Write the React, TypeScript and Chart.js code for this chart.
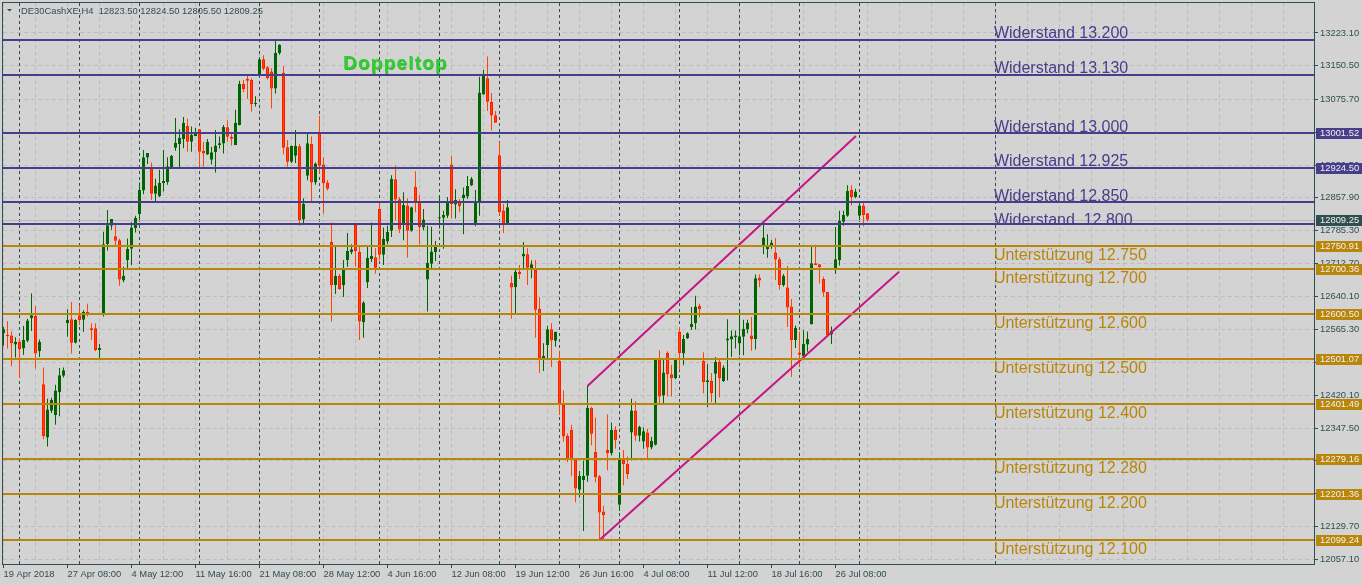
import React, { useEffect, useRef } from 'react';
import { Chart, registerables } from 'chart.js';

Chart.register(...registerables);

// ---------------- DATA ----------------
const symbol = 'DE30CashXE';
const period = 'H4';

const opens = [
  12558, 12554, 12553, 12533, 12539, 12524, 12541, 12591, 12596, 12518,
  12445, 12327, 12386, 12377, 12427, 12464, 12580, 12589, 12537, 12598,
  12588, 12605, 12569, 12569, 12521, 12600, 12755, 12796, 12773, 12764,
  12675, 12720, 12745, 12791, 12822, 12874, 12947, 12923, 12867, 12862,
  12891, 12893, 12926, 12969, 12977, 12988, 13017, 12982, 12995, 13010,
  12962, 12954, 12942, 12959, 12975, 12978, 13014, 12993, 12975, 13019,
  13110, 13121, 13119, 13066, 13130, 13165, 13147, 13138, 13100, 13178,
  13135, 12970, 12938, 12951, 12972, 12810, 12907, 12977, 12892, 13001,
  12932, 12892, 12760, 12665, 12685, 12664, 12720, 12738, 12798, 12738,
  12582, 12671, 12722, 12726, 12833, 12732, 12761, 12785, 12899, 12855,
  12800, 12841, 12785, 12882, 12849, 12792, 12677, 12712, 12738, 12812,
  12814, 12818, 12932, 12843, 12851, 12857, 12861, 12885, 12799, 12849,
  13087, 13123, 13070, 13041, 12952, 12830, 12801, 12669, 12660, 12694,
  12728, 12733, 12702, 12698, 12612, 12500, 12532, 12567, 12541, 12497,
  12399, 12330, 12344, 12278, 12211, 12233, 12242, 12393, 12295, 12241,
  12163, 12299, 12292, 12344, 12178, 12277, 12268, 12338, 12387, 12331,
  12318, 12338, 12305, 12311, 12499, 12420, 12514, 12467, 12458, 12561,
  12513, 12546, 12572, 12580, 12619, 12497, 12450, 12452, 12468, 12495,
  12452, 12542, 12544, 12549, 12535, 12550, 12567, 12553, 12545, 12681,
  12750, 12744, 12751, 12737, 12722, 12665, 12659, 12617, 12543, 12515,
  12507, 12533, 12578, 12713, 12711, 12678, 12649, 12555, 12702, 12720,
  12805, 12818, 12875, 12860, 12818, 12841, 12823.5,
];
const highs = [
  12572, 12585, 12562, 12549, 12546, 12574, 12590, 12646, 12618, 12544,
  12482, 12413, 12415, 12444, 12481, 12482, 12611, 12627, 12589, 12620,
  12609, 12623, 12580, 12580, 12534, 12783, 12831, 12811, 12797, 12768,
  12705, 12768, 12804, 12818, 12892, 12964, 12957, 12936, 12900, 12920,
  12964, 12948, 12953, 13035, 13010, 13037, 13033, 13016, 13013, 13010,
  12982, 12988, 12971, 13008, 12994, 13019, 13030, 13001, 13053, 13117,
  13119, 13130, 13123, 13083, 13167, 13174, 13150, 13145, 13210, 13198,
  13150, 12986, 12973, 13008, 12977, 12857, 13001, 12994, 12936, 13040,
  12948, 12897, 12803, 12750, 12689, 12720, 12780, 12755, 12802, 12750,
  12629, 12750, 12803, 12746, 12849, 12792, 12796, 12908, 12929, 12860,
  12870, 12857, 12838, 12917, 12864, 12833, 12796, 12794, 12762, 12864,
  12829, 12860, 12951, 12877, 12855, 12881, 12906, 12904, 12875, 13126,
  13141, 13171, 13090, 13050, 12982, 12844, 12853, 12685, 12698, 12709,
  12760, 12746, 12719, 12720, 12638, 12536, 12574, 12580, 12561, 12519,
  12431, 12336, 12355, 12278, 12253, 12276, 12441, 12395, 12371, 12244,
  12176, 12378, 12360, 12352, 12294, 12299, 12285, 12413, 12407, 12353,
  12349, 12346, 12328, 12502, 12520, 12499, 12518, 12488, 12499, 12572,
  12554, 12560, 12616, 12641, 12623, 12516, 12490, 12470, 12505, 12502,
  12487, 12589, 12564, 12564, 12610, 12588, 12588, 12594, 12688, 12688,
  12803, 12777, 12765, 12769, 12727, 12689, 12707, 12634, 12575, 12562,
  12565, 12562, 12750, 12754, 12711, 12683, 12650, 12573, 12793, 12829,
  12829, 12886, 12886, 12878, 12850, 12848, 12824.5,
];
const lows = [
  12530, 12524, 12485, 12504, 12459, 12510, 12538, 12563, 12479, 12505,
  12323, 12307, 12381, 12355, 12374, 12460, 12550, 12513, 12535, 12576,
  12561, 12595, 12543, 12518, 12500, 12595, 12741, 12787, 12752, 12663,
  12671, 12702, 12709, 12781, 12810, 12866, 12933, 12853, 12851, 12860,
  12872, 12887, 12925, 12962, 12926, 12968, 12960, 12960, 12995, 12927,
  12927, 12953, 12932, 12914, 12967, 12956, 12982, 12974, 12975, 13018,
  13092, 13077, 13049, 13060, 13130, 13140, 13120, 13056, 13089, 13175,
  12954, 12927, 12935, 12935, 12796, 12799, 12897, 12849, 12887, 12911,
  12823, 12874, 12584, 12645, 12654, 12638, 12705, 12733, 12705, 12543,
  12548, 12658, 12716, 12690, 12720, 12709, 12755, 12771, 12809, 12780,
  12764, 12725, 12783, 12826, 12755, 12786, 12606, 12702, 12718, 12790,
  12745, 12813, 12812, 12812, 12826, 12777, 12856, 12884, 12795, 12818,
  13086, 13050, 13007, 13024, 12819, 12780, 12801, 12590, 12602, 12678,
  12698, 12665, 12680, 12548, 12470, 12474, 12499, 12483, 12528, 12377,
  12318, 12272, 12241, 12183, 12194, 12120, 12229, 12310, 12228, 12100,
  12100, 12254, 12287, 12302, 12164, 12221, 12235, 12276, 12320, 12318,
  12302, 12278, 12301, 12309, 12400, 12401, 12418, 12418, 12456, 12476,
  12487, 12545, 12565, 12566, 12593, 12425, 12394, 12405, 12403, 12416,
  12450, 12453, 12506, 12524, 12509, 12509, 12558, 12519, 12522, 12660,
  12733, 12725, 12745, 12676, 12655, 12661, 12572, 12461, 12525, 12483,
  12499, 12517, 12577, 12709, 12668, 12639, 12550, 12534, 12689, 12708,
  12796, 12816, 12841, 12857, 12810, 12795, 12805.5,
];
const closes = [
  12567, 12551, 12536, 12539, 12523, 12543, 12586, 12598, 12513, 12539,
  12330, 12389, 12410, 12431, 12465, 12476, 12588, 12537, 12587, 12587,
  12605, 12600, 12565, 12521, 12525, 12755, 12797, 12811, 12763, 12677,
  12685, 12745, 12792, 12814, 12875, 12948, 12957, 12867, 12885, 12891,
  12895, 12928, 12951, 12980, 12991, 13024, 12982, 12997, 13002, 12960,
  12956, 12982, 12959, 12974, 12979, 13015, 12993, 12989, 13024, 13110,
  13099, 13117, 13066, 13067, 13165, 13144, 13123, 13100, 13179, 13197,
  12969, 12938, 12973, 12973, 12809, 12844, 12979, 12892, 12934, 12929,
  12890, 12878, 12664, 12685, 12656, 12701, 12740, 12744, 12740, 12584,
  12626, 12725, 12729, 12703, 12732, 12767, 12782, 12900, 12854, 12788,
  12842, 12785, 12837, 12849, 12793, 12810, 12714, 12739, 12751, 12815,
  12820, 12851, 12844, 12853, 12840, 12865, 12884, 12900, 12851, 13091,
  13132, 13071, 13040, 13024, 12826, 12801, 12837, 12659, 12694, 12689,
  12734, 12703, 12711, 12610, 12500, 12508, 12567, 12542, 12561, 12401,
  12329, 12277, 12278, 12214, 12242, 12242, 12393, 12335, 12239, 12161,
  12155, 12292, 12344, 12321, 12277, 12268, 12246, 12387, 12331, 12350,
  12341, 12305, 12319, 12499, 12418, 12471, 12467, 12458, 12499, 12514,
  12545, 12558, 12579, 12617, 12611, 12450, 12454, 12425, 12494, 12458,
  12482, 12546, 12551, 12553, 12551, 12568, 12581, 12545, 12680, 12675,
  12770, 12749, 12759, 12721, 12665, 12685, 12615, 12543, 12570, 12510,
  12534, 12545, 12713, 12709, 12704, 12648, 12554, 12563, 12722, 12807,
  12820, 12873, 12860, 12872, 12841, 12820, 12809.25,
];

// time axis labels (one every 16 bars)
const xTickLabels = [
  '19 Apr 2018', '27 Apr 08:00', '4 May 12:00', '11 May 16:00', '21 May 08:00',
  '28 May 12:00', '4 Jun 16:00', '12 Jun 08:00', '19 Jun 12:00', '26 Jun 16:00',
  '4 Jul 08:00', '11 Jul 12:00', '18 Jul 16:00', '26 Jul 08:00',
];
// bars where a period separator is drawn
const separatorBars = [4, 19, 34, 49, 64, 79, 94, 109, 124, 139, 154, 169, 184, 199, 214, 248];

// price axis ticks
const yTickValues = [
  13223.1, 13150.5, 13075.7, 13003.1, 12930.5, 12857.9, 12785.3, 12712.7, 12640.1,
  12565.3, 12492.7, 12420.1, 12347.5, 12274.9, 12202.3, 12129.7, 12057.1,
];

// resistance levels
const resistanceLevels = [13207.5, 13130.7, 13001.52, 12924.5, 12849.3, 12800.6];
const resistanceLabels = [
  'Widerstand 13.200', 'Widerstand 13.130', 'Widerstand 13.000',
  'Widerstand 12.925', 'Widerstand 12.850', 'Widerstand  12.800',
];
const resistanceTagged = [false, false, true, true, false, false];

// support levels
const supportLevels = [12750.91, 12700.36, 12600.5, 12501.07, 12401.49, 12279.16, 12201.36, 12099.24];
const supportLabels = [
  'Unterstützung 12.750', 'Unterstützung 12.700', 'Unterstützung 12.600', 'Unterstützung 12.500',
  'Unterstützung 12.400', 'Unterstützung 12.280', 'Unterstützung 12.200', 'Unterstützung 12.100',
];

// trend channel
const channelUpperBars = [146, 213.1];
const channelUpperPrices = [12441, 12995];
const channelLowerBars = [149, 223.9];
const channelLowerPrices = [12100, 12694];

// annotations
const levelLabelBar = 247.6;
const doppeltopBar = 84.9;
const doppeltopPrice = 13143;
const doppeltopText = 'Doppeltop';

// ---------------- STYLE ----------------
const BG = '#D3D3D3';
const AXIS = '#2F4F4F';
const GRID = '#BDBDBD';
const BULL = '#006400';
const BEAR = '#FF4500';
const BEAR_EDGE = '#FF1A00';
const RES = '#483D8B';
const SUP = '#B8860B';
const CHANNEL = '#C71585';
const FONT = '"Liberation Sans", Arial, sans-serif';
const SMALL = 9.4;

export default function App() {
  const ref = useRef<HTMLCanvasElement>(null);

  useEffect(() => {
    document.body.style.margin = '0';
    const n = opens.length;
    const idx = Array.from({ length: n }, (_, i) => i);
    const bull = idx.map((i) => closes[i] >= opens[i]);
    const bodyData = idx.map((i) => ({ x: i, y: [opens[i], closes[i]] }));
    const wickData = idx.map((i) => ({ x: i, y: [lows[i], highs[i]] }));
    const upper = channelUpperBars.map((b, i) => ({ x: b, y: channelUpperPrices[i] }));
    const lower = channelLowerBars.map((b, i) => ({ x: b, y: channelLowerPrices[i] }));
    const lastClose = closes[n - 1];

    const xGridBars: number[] = [];
    for (let b = 0; b <= 320; b += 8) xGridBars.push(b);

    const overlay = {
      id: 'overlay',
      beforeDraw(chart: any) {
        const ctx = chart.ctx;
        ctx.save();
        ctx.fillStyle = BG;
        ctx.fillRect(0, 0, chart.width, chart.height);
        ctx.restore();
      },
      beforeDatasetsDraw(chart: any) {
        const { ctx, chartArea: a, scales } = chart;
        const xs = scales.x, ys = scales.y;
        ctx.save();
        ctx.strokeStyle = AXIS;
        ctx.lineWidth = 1;
        ctx.setLineDash([3, 3]);
        separatorBars.forEach((b) => {
          const x = xs.getPixelForValue(b);
          ctx.beginPath();
          ctx.moveTo(x, a.top);
          ctx.lineTo(x, a.bottom);
          ctx.stroke();
        });
        ctx.setLineDash([]);
        // bid line
        const yb = Math.round(ys.getPixelForValue(lastClose)) + 0.5;
        ctx.strokeStyle = '#B8B8B8';
        ctx.beginPath();
        ctx.moveTo(a.left, yb);
        ctx.lineTo(a.right, yb);
        ctx.stroke();
        ctx.restore();
      },
      afterDatasetsDraw(chart: any) {
        const { ctx, chartArea: a, scales } = chart;
        const xs = scales.x, ys = scales.y;
        ctx.save();
        ctx.lineWidth = 2;
        const tx = xs.getPixelForValue(levelLabelBar);
        ctx.font = `16px ${FONT}`;
        ctx.textAlign = 'left';
        ctx.textBaseline = 'alphabetic';
        const resDy = [-2, -2, -1, -2, -1, 1];
        resistanceLevels.forEach((p, i) => {
          const y = Math.round(ys.getPixelForValue(p));
          ctx.strokeStyle = RES;
          ctx.beginPath();
          ctx.moveTo(a.left, y);
          ctx.lineTo(a.right, y);
          ctx.stroke();
          ctx.fillStyle = RES;
          ctx.fillText(resistanceLabels[i], tx, y + resDy[i]);
        });
        supportLevels.forEach((p, i) => {
          const y = Math.round(ys.getPixelForValue(p));
          ctx.strokeStyle = SUP;
          ctx.beginPath();
          ctx.moveTo(a.left, y);
          ctx.lineTo(a.right, y);
          ctx.stroke();
          ctx.fillStyle = SUP;
          ctx.fillText(supportLabels[i], tx, y + 13.5);
        });
        // Doppeltop
        ctx.font = `bold 19px ${FONT}`;
        try { (ctx as any).letterSpacing = '1.2px'; } catch (e) { /* ignore */ }
        const dx = xs.getPixelForValue(doppeltopBar);
        const dy = ys.getPixelForValue(doppeltopPrice);
        ctx.fillStyle = '#2EB82E';
        ctx.fillText(doppeltopText, dx + 0.6, dy + 0.6);
        ctx.fillStyle = '#32CD32';
        ctx.fillText(doppeltopText, dx, dy);
        try { (ctx as any).letterSpacing = '0px'; } catch (e) { /* ignore */ }
        ctx.restore();
      },
      afterDraw(chart: any) {
        const { ctx, chartArea: a, scales } = chart;
        const ys = scales.y;
        ctx.save();
        // price tags on the axis
        const tags: { p: number; c: string }[] = [];
        resistanceLevels.forEach((p, i) => { if (resistanceTagged[i]) tags.push({ p, c: RES }); });
        tags.push({ p: lastClose, c: AXIS });
        supportLevels.forEach((p) => tags.push({ p, c: SUP }));
        ctx.font = `${SMALL}px ${FONT}`;
        ctx.textAlign = 'left';
        ctx.textBaseline = 'middle';
        tags.forEach((t) => {
          const y = Math.round(ys.getPixelForValue(t.p));
          ctx.fillStyle = t.c;
          ctx.fillRect(a.right + 2, y - 5, chart.width - a.right - 2, 11);
          ctx.fillStyle = '#F2F2F2';
          ctx.fillText(t.p.toFixed(2), a.right + 6, y + 0.5);
        });
        // frame
        ctx.strokeStyle = AXIS;
        ctx.lineWidth = 1;
        ctx.strokeRect(a.left - 0.5, a.top - 0.5, a.right - a.left + 1, a.bottom - a.top + 1);
        // header
        ctx.fillStyle = AXIS;
        ctx.beginPath();
        ctx.moveTo(7, 9);
        ctx.lineTo(12, 9);
        ctx.lineTo(9.5, 11.5);
        ctx.closePath();
        ctx.fill();
        const header = `${symbol},${period}  ${opens[n - 1].toFixed(2)} ${highs[n - 1].toFixed(2)} ${lows[n - 1].toFixed(2)} ${closes[n - 1].toFixed(2)}`;
        ctx.fillText(header, 21, 11);
        ctx.restore();
      },
    };

    const chart = new Chart(ref.current as HTMLCanvasElement, {
      type: 'bar',
      data: {
        datasets: [
          {
            type: 'line', data: upper as any, borderColor: CHANNEL, borderWidth: 2,
            pointRadius: 0, order: 0, fill: false,
          } as any,
          {
            type: 'line', data: lower as any, borderColor: CHANNEL, borderWidth: 2,
            pointRadius: 0, order: 0, fill: false,
          } as any,
          {
            type: 'bar', data: bodyData as any,
            backgroundColor: bull.map((b) => (b ? BULL : BEAR)),
            borderColor: bull.map((b) => (b ? BULL : BEAR_EDGE)),
            borderWidth: 1, borderSkipped: false, barThickness: 3, grouped: false,
            inflateAmount: 0, minBarLength: 1, order: 1,
          } as any,
          {
            type: 'bar', data: wickData as any,
            backgroundColor: bull.map((b) => (b ? BULL : BEAR)),
            borderWidth: 0, barThickness: 1, grouped: false, inflateAmount: 0,
            minBarLength: 1, order: 2,
          } as any,
        ],
      },
      options: {
        responsive: true,
        maintainAspectRatio: false,
        animation: false,
        devicePixelRatio: 1,
        events: [],
        layout: { padding: { left: 3, top: 3, right: 0, bottom: 0 } },
        plugins: { legend: { display: false }, tooltip: { enabled: false } },
        scales: {
          x: {
            type: 'linear', min: -0.125, max: 327.625, offset: false,
            grid: {
              offset: false, color: GRID, lineWidth: 1, tickLength: 4, tickWidth: 1,
              tickColor: (c: any) =>
                c.tick && c.tick.value % 16 === 0 && c.tick.value / 16 < xTickLabels.length ? AXIS : 'rgba(0,0,0,0)',
            },
            border: { display: false, dash: [4, 3] },
            ticks: {
              autoSkip: false, maxRotation: 0, minRotation: 0, align: 'start', padding: 1,
              color: AXIS, font: { family: FONT, size: SMALL },
              callback: (v: any) => {
                const k = Number(v) / 16;
                return Number.isInteger(k) && k < xTickLabels.length ? xTickLabels[k] : '';
              },
            },
            afterBuildTicks: (s: any) => { s.ticks = xGridBars.map((v) => ({ value: v })); },
            afterFit: (s: any) => {
              s.height = 21;
              s.paddingLeft = 0; s.paddingRight = 0; s.paddingTop = 0; s.paddingBottom = 0;
            },
          } as any,
          y: {
            type: 'linear', position: 'right', min: 12046.7, max: 13289.5, beginAtZero: false,
            grid: { color: GRID, lineWidth: 1, tickLength: 4, tickWidth: 1, tickColor: AXIS },
            border: { display: false, dash: [4, 3] },
            ticks: {
              padding: 2, color: AXIS, font: { family: FONT, size: SMALL },
              callback: (v: any) => Number(v).toFixed(2),
            },
            afterBuildTicks: (s: any) => { s.ticks = yTickValues.map((v) => ({ value: v })); },
            afterFit: (s: any) => {
              s.width = 48;
              s.paddingLeft = 0; s.paddingRight = 0; s.paddingTop = 0; s.paddingBottom = 0;
            },
          } as any,
        },
      } as any,
      plugins: [overlay],
    });
    return () => chart.destroy();
  }, []);

  return (
    <div style={{ position: 'fixed', left: 0, top: 0, width: 1362, height: 585, background: BG }}>
      <canvas ref={ref} />
    </div>
  );
}
